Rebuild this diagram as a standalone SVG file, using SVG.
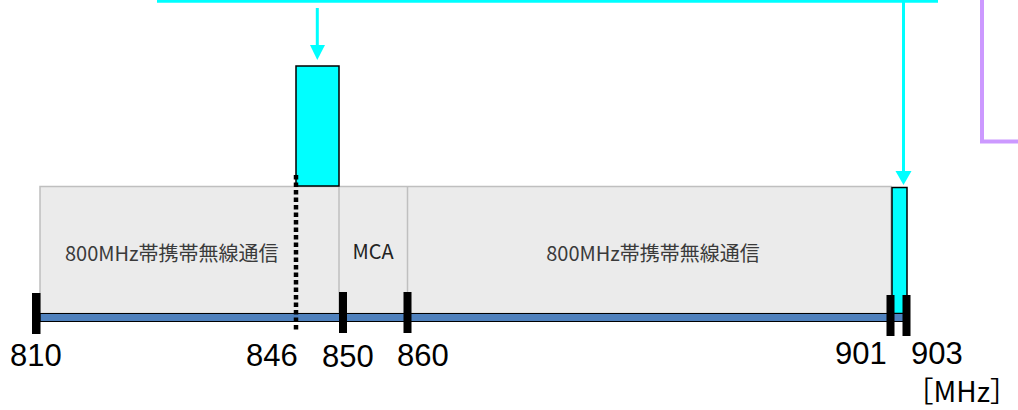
<svg xmlns="http://www.w3.org/2000/svg" width="1018" height="410" viewBox="0 0 1018 410">
  <style>
    .band { fill: #EBEBEB; stroke: #BFBFBF; stroke-width: 1.5; }
    .div { stroke: #BFBFBF; stroke-width: 1.5; }
    .cyan { fill: #00FFFF; stroke: #000; stroke-width: 1.5; }
    .tick { fill: #000; }
    .axis { fill: #4F81BD; stroke: #000; stroke-width: 1; }
    .num { font-family: "Liberation Sans", "Noto Sans", sans-serif; font-size: 31px; fill: #000; }
    .lbl { font-family: "Noto Sans CJK JP", "Noto Sans", sans-serif; font-size: 20px; fill: #3A3A3A; }
    .conn { stroke: #00FFFF; stroke-width: 3; fill: none; }
    .head { fill: #00FFFF; }
  </style>

  <g id="bands">
    <rect class="band" x="40" y="186.5" width="851" height="127"/>
    <line class="div" x1="339" y1="186.5" x2="339" y2="313"/>
    <line class="div" x1="407.5" y1="186.5" x2="407.5" y2="313"/>
    <text class="lbl" x="65" y="261">800MHz帯携帯無線通信</text>
    <text class="lbl" x="373" y="259" text-anchor="middle" style="fill:#222">MCA</text>
    <text class="lbl" x="653" y="261" text-anchor="middle">800MHz帯携帯無線通信</text>
  </g>

  <g id="block846">
    <rect class="cyan" x="296" y="66" width="43" height="120"/>
  </g>
  <g id="block901">
    <rect class="cyan" x="892" y="187.5" width="15" height="126"/>
  </g>

  <g id="axis">
    <rect class="axis" x="40" y="313.5" width="866" height="8"/>
    <rect class="tick" x="32" y="293" width="8.5" height="41"/>
    <rect class="tick" x="339" y="292" width="8" height="41"/>
    <rect class="tick" x="403.5" y="292" width="8" height="41"/>
    <rect class="tick" x="886.5" y="295" width="8" height="41"/>
    <rect class="tick" x="902.5" y="295" width="8" height="41"/>
    <line x1="296" y1="175" x2="296" y2="331" stroke="#000" stroke-width="4.5" stroke-dasharray="4.5 3"/>
  </g>

  <g id="labels">
    <text class="num" x="10" y="366">810</text>
    <text class="num" x="246" y="366">846</text>
    <text class="num" x="322" y="367">850</text>
    <text class="num" x="397" y="366">860</text>
    <text class="num" x="835" y="364">901</text>
    <text class="num" x="911" y="364">903</text>
    <text class="num" x="1018" y="402" text-anchor="end" style="font-family:'Noto Sans CJK JP','Liberation Sans',sans-serif;font-size:28px">［MHz］</text>
  </g>

  <g id="connectors">
    <line class="conn" x1="157" y1="1.2" x2="938" y2="1.2"/>
    <line class="conn" x1="317.3" y1="8" x2="317.3" y2="47"/>
    <polygon class="head" points="310,45 325,45 317.3,60"/>
    <line class="conn" x1="903.5" y1="0" x2="903.5" y2="173"/>
    <polygon class="head" points="895.5,171 911.5,171 903.5,185"/>
    <path d="M982,0 V141.5 H1018" fill="none" stroke="#CC99FF" stroke-width="4"/>
  </g>
</svg>
